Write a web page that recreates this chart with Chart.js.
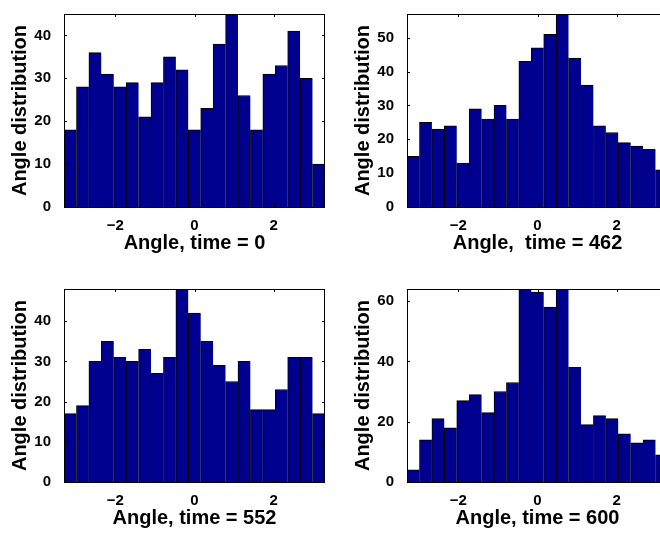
<!DOCTYPE html>
<html>
<head>
<meta charset="utf-8">
<script src="https://cdn.jsdelivr.net/npm/chart.js@4.4.1/dist/chart.umd.min.js"></script>
<style>
  html, body { margin: 0; padding: 0; background: #fff; }
  body { width: 660px; height: 534px; overflow: hidden; position: relative; }
  canvas { position: absolute; }
</style>
</head>
<body>
<canvas id="h0" width="345" height="275" style="left:0;top:0"></canvas>
<canvas id="h462" width="345" height="275" style="left:343px;top:0"></canvas>
<canvas id="h552" width="345" height="275" style="left:0;top:275px"></canvas>
<canvas id="h600" width="345" height="275" style="left:343px;top:275px"></canvas>
<script>
// 21 bins from -pi to pi
const binCenters = [-3.1416, -2.8274, -2.5133, -2.1991, -1.8850, -1.5708, -1.2566,
  -0.9425, -0.6283, -0.3142, 0, 0.3142, 0.6283, 0.9425, 1.2566, 1.5708, 1.8850,
  2.1991, 2.5133, 2.8274, 3.1416];

const counts0   = [18, 28, 36, 31, 28, 29, 21, 29, 35, 32, 18, 23, 38, 45, 26, 18, 31, 33, 41, 30, 10];
const counts462 = [15, 25, 23, 24, 13, 29, 26, 30, 26, 43, 47, 51, 57, 44, 36, 24, 22, 19, 18, 17, 11];
const counts552 = [17, 19, 30, 35, 31, 30, 33, 27, 31, 48, 42, 35, 29, 25, 30, 18, 18, 23, 31, 31, 17];
const counts600 = [4, 14, 21, 18, 27, 29, 23, 30, 33, 64, 63, 58, 64, 38, 19, 22, 21, 16, 13, 14, 9];

const xTicks = [-2, 0, 2];
const yTicks0   = [0, 10, 20, 30, 40];
const yTicks462 = [0, 10, 20, 30, 40, 50];
const yTicks552 = [0, 10, 20, 30, 40];
const yTicks600 = [0, 20, 40, 60];

Chart.defaults.font.family = "'Liberation Sans', Arial, sans-serif";
Chart.defaults.font.weight = 'bold';
Chart.defaults.color = '#000';

// matlab-ish box with short inward ticks on all four sides
const boxTicks = {
  id: 'boxTicks',
  afterDatasetsDraw(chart) {
    const { ctx, chartArea: a, scales: { x, y } } = chart;
    ctx.save();
    ctx.strokeStyle = '#000';
    ctx.lineWidth = 1;
    ctx.beginPath();
    x.ticks.forEach(t => {
      const px = Math.round(x.getPixelForValue(t.value)) + 0.5;
      ctx.moveTo(px, a.bottom); ctx.lineTo(px, a.bottom - 3);
      ctx.moveTo(px, a.top); ctx.lineTo(px, a.top + 3);
    });
    y.ticks.forEach(t => {
      const py = Math.round(y.getPixelForValue(t.value)) + 0.5;
      ctx.moveTo(a.left, py); ctx.lineTo(a.left + 3, py);
      ctx.moveTo(a.right, py); ctx.lineTo(a.right - 3, py);
    });
    ctx.stroke();
    ctx.strokeRect(a.left + 0.5, a.top + 0.5, a.right - a.left - 1, a.bottom - a.top);
    ctx.restore();
  }
};

const fmt = v => v < 0 ? '\u2212' + Math.abs(v) : String(v);

function makeHist(id, counts, yTicks, yMax, title) {
  return new Chart(document.getElementById(id), {
    type: 'bar',
    data: {
      datasets: [{
        data: binCenters.map((c, i) => ({ x: c, y: counts[i] })),
        backgroundColor: '#00008F',
        borderColor: '#000',
        borderWidth: { left: 1, top: 1, right: 0, bottom: 0 },
        borderSkipped: false,
        barPercentage: 1,
        categoryPercentage: 1
      }]
    },
    options: {
      responsive: false,
      animation: false,
      layout: { padding: { left: 0, top: 8, right: 20, bottom: 0 } },
      plugins: { legend: { display: false }, tooltip: { enabled: false } },
      scales: {
        x: {
          type: 'linear',
          offset: false,
          min: -3.30,
          max: 3.30,
          grid: { display: false, offset: false },
          border: { display: false },
          afterBuildTicks: s => { s.ticks = xTicks.map(v => ({ value: v })); },
          afterFit: s => { s.height = 68; },
          ticks: { font: { size: 15 }, padding: 2, maxRotation: 0, callback: fmt },
          title: { display: true, text: title, font: { size: 20 }, padding: { top: 0, bottom: 20 } }
        },
        y: {
          min: 0,
          max: yMax,
          grid: { display: false },
          border: { display: false },
          afterBuildTicks: s => { s.ticks = yTicks.map(v => ({ value: v })); },
          afterFit: s => { s.width = 64; },
          ticks: { font: { size: 15 }, padding: 5, callback: fmt },
          title: { display: true, text: 'Angle distribution', font: { size: 20 }, padding: { top: 8, bottom: 0 } }
        }
      }
    },
    plugins: [boxTicks]
  });
}

makeHist('h0', counts0, yTicks0, 45, 'Angle, time = 0');
makeHist('h462', counts462, yTicks462, 57, 'Angle,  time = 462');
makeHist('h552', counts552, yTicks552, 48, 'Angle, time = 552');
makeHist('h600', counts600, yTicks600, 64, 'Angle, time = 600');
</script>
</body>
</html>
